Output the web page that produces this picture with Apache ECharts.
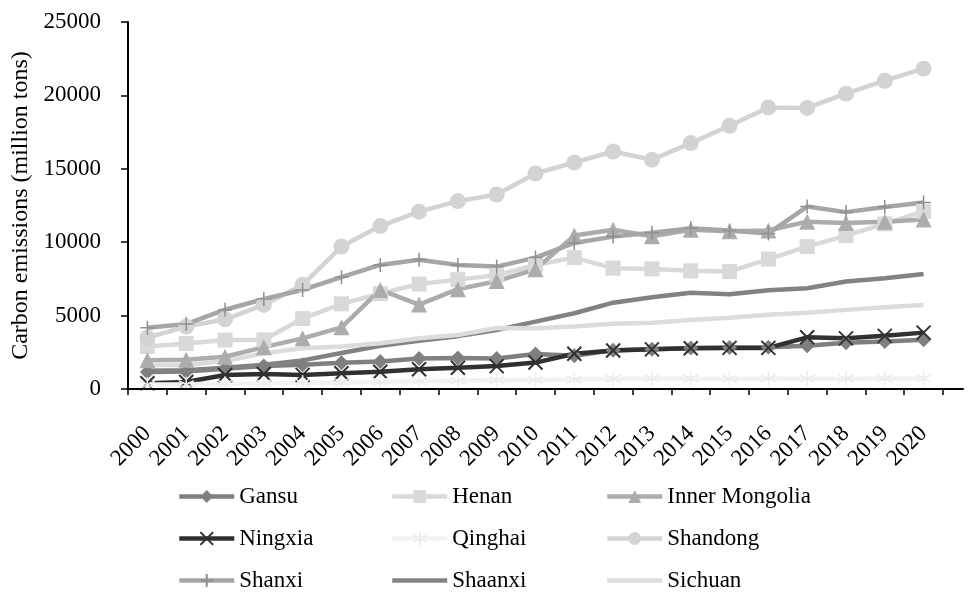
<!DOCTYPE html>
<html>
<head>
<meta charset="utf-8">
<script src="https://cdn.jsdelivr.net/npm/echarts@6/dist/echarts.min.js"></script>
<style>
  html, body { margin: 0; padding: 0; background: #fff; }
  #chart { width: 974px; height: 594px; }
</style>
</head>
<body>
<div id="chart"></div>
<script>
// Provincial carbon emissions, 2000-2020 (million tons)
const years = ['2000','2001','2002','2003','2004','2005','2006','2007','2008','2009','2010',
               '2011','2012','2013','2014','2015','2016','2017','2018','2019','2020'];
const yTicks = [0, 5000, 10000, 15000, 20000, 25000];

const gansu    = [1150, 1200, 1380, 1560, 1650, 1790, 1880, 2080, 2110, 2080, 2380, 2260, 2640, 2710, 2800, 2830, 2850, 2950, 3150, 3240, 3350];
const henan    = [2900, 3100, 3330, 3350, 4800, 5800, 6500, 7150, 7450, 7750, 8450, 8950, 8230, 8180, 8050, 8000, 8850, 9700, 10450, 11250, 12100];
const innerMongolia = [1950, 2000, 2200, 2850, 3450, 4200, 6750, 5750, 6800, 7350, 8150, 10450, 10850, 10400, 10850, 10750, 10800, 11400, 11300, 11400, 11550];
const ningxia  = [390, 480, 950, 1020, 960, 1070, 1180, 1340, 1450, 1560, 1800, 2400, 2620, 2700, 2780, 2800, 2800, 3520, 3450, 3620, 3840];
const qinghai  = [300, 320, 350, 380, 420, 450, 480, 520, 560, 600, 620, 650, 700, 720, 720, 680, 720, 700, 700, 720, 720];
const shandong = [3500, 4250, 4750, 5730, 7100, 9700, 11100, 12080, 12800, 13250, 14680, 15430, 16180, 15620, 16750, 17930, 19180, 19150, 20120, 21000, 21820];
const shanxi   = [4180, 4420, 5400, 6130, 6750, 7620, 8450, 8800, 8450, 8340, 8950, 9950, 10380, 10650, 10950, 10800, 10600, 12430, 12050, 12400, 12700];
const shaanxi  = [1250, 1280, 1450, 1650, 1950, 2450, 2950, 3280, 3600, 4020, 4590, 5160, 5880, 6250, 6560, 6460, 6720, 6860, 7320, 7550, 7840];
const sichuan  = [1640, 1640, 1900, 2430, 2770, 2890, 3110, 3450, 3680, 4150, 4140, 4250, 4450, 4520, 4700, 4850, 5050, 5200, 5390, 5570, 5730];

const FONT = "'Liberation Serif', 'Times New Roman', serif";

// stroked marker shapes
const CROSS_X = 'path://M0,0L10,10M10,0L0,10';
const PLUS = 'path://M5,0L5,10M0,5L10,5';
const ASTER = 'path://M5,0L5,10M0.7,2.5L9.3,7.5M0.7,7.5L9.3,2.5';
// plain line swatch for series drawn without markers
const BAR_ICON = 'path://M0,0H55V4.5H0Z';

function line(name, data, color, symbol, size, extra) {
  const s = {
    name: name,
    type: 'line',
    data: data,
    xAxisIndex: 0,
    yAxisIndex: 0,
    symbol: symbol || 'none',
    symbolSize: size || 0,
    showSymbol: !!symbol,
    lineStyle: { color: color, width: 4.5 },
    itemStyle: { color: color },
    emphasis: { disabled: true },
    animation: false
  };
  return Object.assign(s, extra || {});
}

const series = [
  line('Gansu', gansu, '#7f7f7f', 'diamond', 15),
  line('Henan', henan, '#d9d9d9', 'rect', 15),
  line('Inner Mongolia', innerMongolia, '#acacac', 'triangle', 16),
  line('Ningxia', ningxia, '#303030', CROSS_X, 14,
       { itemStyle: { color: '#303030', borderColor: '#303030', borderWidth: 2 } }),
  line('Qinghai', qinghai, '#f2f2f2', ASTER, 15,
       { itemStyle: { color: '#ececec', borderColor: '#ececec', borderWidth: 1.5 } }),
  line('Shandong', shandong, '#d3d3d3', 'circle', 16),
  line('Shanxi', shanxi, '#a6a6a6', PLUS, 14,
       { itemStyle: { color: '#8f8f8f', borderColor: '#8f8f8f', borderWidth: 1.5 } }),
  line('Shaanxi', shaanxi, '#828282'),
  line('Sichuan', sichuan, '#dcdcdc')
];

const legendBase = {
  orient: 'vertical',
  top: 485,
  padding: 0,
  itemWidth: 55,
  itemHeight: 16,
  itemGap: 19,
  lineStyle: { width: 4.5 },
  textStyle: { fontFamily: FONT, fontSize: 23, color: '#000' },
  selectedMode: false
};

const chart = echarts.init(document.getElementById('chart'), null, { renderer: 'canvas' });
chart.setOption({
  backgroundColor: '#fff',
  animation: false,
  grid: [
    { left: 128, right: 31, top: 22, bottom: 205 },
    { left: 128, right: 11, top: 22, bottom: 205 }
  ],
  legend: [
    Object.assign({ left: 177, data: ['Gansu', 'Ningxia', 'Shanxi'] }, legendBase),
    Object.assign({ left: 390, data: ['Henan', 'Qinghai', { name: 'Shaanxi', icon: BAR_ICON }] }, legendBase),
    Object.assign({ left: 605, data: ['Inner Mongolia', 'Shandong', { name: 'Sichuan', icon: BAR_ICON }] }, legendBase)
  ],
  xAxis: [
    {
      type: 'category',
      gridIndex: 0,
      data: years,
      boundaryGap: true,
      axisLine: { lineStyle: { color: '#000', width: 2 } },
      axisTick: { show: true, length: 6, lineStyle: { color: '#000', width: 1.5 } },
      axisLabel: { rotate: 45, margin: 41, color: '#000', fontFamily: FONT, fontSize: 23, interval: 0 },
      z: 5
    },
    {
      type: 'value',
      gridIndex: 1,
      min: 0, max: 1,
      axisLine: { show: true, lineStyle: { color: '#000', width: 2 } },
      axisTick: { show: false },
      axisLabel: { show: false },
      splitLine: { show: false }
    }
  ],
  yAxis: [
    {
      type: 'value',
      gridIndex: 0,
      min: yTicks[0],
      max: yTicks[yTicks.length - 1],
      interval: yTicks[1] - yTicks[0],
      name: 'Carbon emissions (million tons)',
      nameLocation: 'middle',
      nameGap: 89,
      nameTextStyle: { fontFamily: FONT, fontSize: 24, color: '#000' },
      axisLine: { show: true, lineStyle: { color: '#000', width: 2 } },
      axisTick: { show: true, length: 7, lineStyle: { color: '#000', width: 1.5 } },
      axisLabel: { margin: 27, color: '#000', fontFamily: FONT, fontSize: 23, formatter: v => String(v) },
      splitLine: { show: false },
      z: 5
    },
    { type: 'value', gridIndex: 1, show: false, min: 0, max: 1 }
  ],
  series: series
});
</script>
</body>
</html>
